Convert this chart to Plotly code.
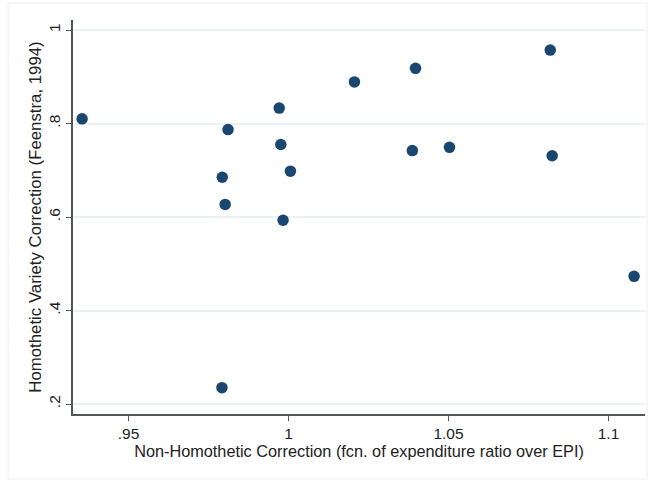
import plotly.graph_objects as go

# Non-homothetic vs. homothetic variety corrections, one point per country
non_homothetic = [0.9355, 0.9811, 0.9793, 0.9802, 0.9792, 0.9971, 0.9976, 1.0006,
                  0.9983, 1.0206, 1.0397, 1.0387, 1.0503, 1.0818, 1.0824, 1.1080]
homothetic = [0.810, 0.787, 0.685, 0.627, 0.235, 0.833, 0.755, 0.698,
              0.593, 0.889, 0.918, 0.742, 0.749, 0.957, 0.731, 0.473]

x_ticks = [0.95, 1.0, 1.05, 1.1]
x_tick_text = [".95", "1", "1.05", "1.1"]
y_ticks = [0.2, 0.4, 0.6, 0.8, 1.0]
y_tick_text = [".2", ".4", ".6", ".8", "1"]

W, H = 648, 483
L, R, T, B = 73, 645, 20, 414
FONT = "Liberation Sans, Arial, sans-serif"

fig = go.Figure(
    go.Scatter(
        x=non_homothetic, y=homothetic, mode="markers",
        marker=dict(size=11.5, color="#1a476f", line=dict(width=0)),
        hoverinfo="x+y",
    )
)

axis_common = dict(
    showline=True, linecolor="#555555", linewidth=1.5,
    ticks="outside", ticklen=5, tickcolor="#555555", tickwidth=1,
    tickfont=dict(family=FONT, size=15.5, color="#222"),
    zeroline=False, mirror=False,
)

fig.update_xaxes(
    range=[0.95 - 55.5 / 3200, 1.1 + 36.5 / 3200],
    tickvals=x_ticks, ticktext=x_tick_text, showgrid=False,
    title=dict(text="Non-Homothetic Correction (fcn. of expenditure ratio over EPI)",
               font=dict(family=FONT, size=16.3, color="#222"), standoff=1),
    **axis_common,
)
fig.update_yaxes(
    range=[0.2 - 10 / 467.5, 1.0 + 10 / 467.5],
    tickvals=y_ticks, ticktext=y_tick_text, tickangle=-90,
    showgrid=True, gridcolor="#eaf2f3", gridwidth=1.5,
    title=dict(text="Homothetic Variety Correction (Feenstra, 1994)",
               font=dict(family=FONT, size=16.8, color="#222"), standoff=0),
    **axis_common,
)

# faint outer frame around the graph region
def px_x(v):
    return (v - L) / (R - L)

def px_y(v):
    return (B - v) / (B - T)

fig.add_shape(type="rect", xref="paper", yref="paper",
              x0=px_x(8), x1=px_x(647), y0=px_y(479), y1=px_y(3),
              line=dict(color="#eeeeee", width=1), fillcolor="rgba(0,0,0,0)",
              layer="below")

fig.update_layout(
    width=W, height=H,
    margin=dict(l=L, r=W - R, t=T, b=H - B),
    paper_bgcolor="white", plot_bgcolor="white",
    showlegend=False,
)

fig.write_html("out.html")
